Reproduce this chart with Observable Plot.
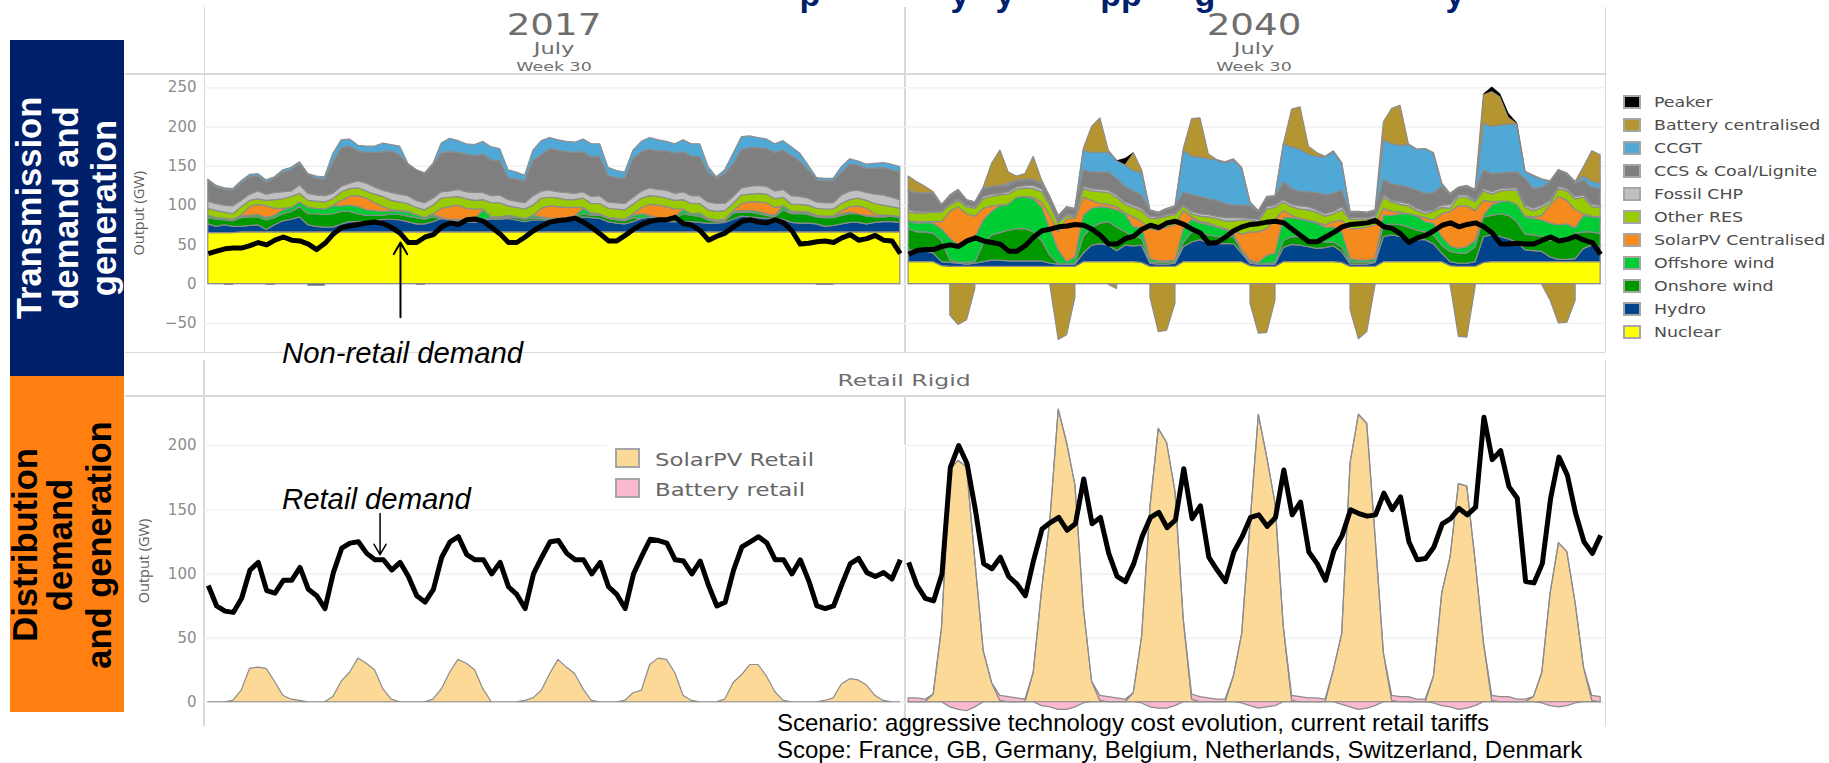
<!DOCTYPE html>
<html><head><meta charset="utf-8">
<script src="https://cdn.jsdelivr.net/npm/d3@7"></script>
<script src="https://cdn.jsdelivr.net/npm/@observablehq/plot@0.6"></script>
<style>
html,body{margin:0;padding:0;background:#fff;overflow:hidden;width:1829px;height:763px}
#page{position:relative;width:1829px;height:763px;overflow:hidden}
#page>*{position:absolute}
.plot{left:0}
.plot svg{background:transparent!important;display:block}
.rl{white-space:nowrap;transform:translate(-50%,-50%) rotate(-90deg);font:bold 34.5px "Liberation Sans";line-height:1}
.hd{white-space:nowrap;font-family:"DejaVu Sans";color:#6e6e6e;line-height:1}
.frame{background:#d9d9d9}
.leg{white-space:nowrap;font:14.5px "DejaVu Sans";color:#4d4d4d;transform-origin:left center;line-height:1}
.sw{box-sizing:border-box;width:18px;height:14px;border:2px solid #a6a6a6}
.ann{white-space:nowrap;font:italic 29.3px "Liberation Sans";color:#000;transform:translateY(-50%);line-height:1}
.note{white-space:nowrap;font:24px "Liberation Sans";color:#000;transform:translateY(-50%);line-height:1}
.ttl{white-space:nowrap;font:bold 34px "Liberation Sans";color:#00206b;line-height:1;transform:translateX(-50%)}
</style></head><body><div id="page"></div>
<script>
// Transmission 2017: top edge of each stacked layer, GW, 2-hourly (84 values, 12 per day)
const nuclear2017=[65,65,65,65,66,66,66,66,66,66,66,66,
66,66,66,66,66,66,66,66,66,66,66,66,
66,66,66,66,66,66,66,66,66,66,66,66,
66,66,66,66,66,66,66,66,66,66,66,66,
66,66,66,66,66,66,66,66,66,66,66,66,
66,66,66,66,66,66,66,66,66,66,66,66,
66,66,66,66,66,66,66,66,66,66,66,66];
const hydroTop2017=[76,73,75,73,73,74,75,69,75,80,82,85,
75,73,72,72,76,79,79,79,80,82,82,81,
79,76,76,79,83,81,80,79,78,81,82,82,
83,81,79,81,81,81,81,82,84,85,84,83,
79,77,76,79,83,85,81,79,79,79,79,78,
77,77,78,82,86,85,84,83,83,82,78,77,
77,76,73,74,76,78,78,76,78,79,79,78];
const onshoreTop2017=[84,82,81,80,84,85,85,81,84,89,92,98,
89,89,88,89,92,92,89,87,87,87,89,88,
86,84,82,85,83,81,81,80,80,82,84,83,
85,84,82,84,83,81,81,82,85,89,87,87,
83,81,80,84,83,85,82,81,83,89,87,86,
81,79,80,90,91,91,89,87,85,94,89,89,
88,85,84,84,87,89,89,86,85,85,86,84];
const offshoreTop2017=[87,84,83,82,86,87,88,84,87,94,97,104,
97,96,95,99,99,100,98,94,93,92,93,92,
91,88,84,88,84,82,82,81,82,94,85,85,
87,85,83,87,85,83,83,84,86,96,89,88,
84,82,81,87,89,87,84,83,85,94,89,89,
82,80,81,92,93,93,92,89,87,99,90,91,
90,86,86,86,89,91,89,87,86,86,87,85];
const solarTop2017=[87,84,83,82,87,98,101,99,96,96,97,104,
97,96,95,99,106,111,112,109,103,98,94,93,
92,88,84,89,96,98,100,96,95,95,85,85,
87,85,83,87,96,99,98,97,97,97,90,89,
84,83,82,89,97,101,100,98,95,95,89,90,
83,81,82,93,102,104,104,103,97,99,92,92,
91,87,86,86,93,98,99,96,89,87,87,85];
const otherTop2017=[96,93,91,89,98,106,108,106,107,108,111,115,
106,105,104,108,117,121,122,118,114,111,106,104,
102,97,94,100,109,110,111,108,106,107,103,103,
99,97,95,100,109,110,109,107,107,109,102,102,
96,95,94,101,109,112,111,109,106,107,102,102,
94,92,93,102,113,114,115,114,108,110,101,101,
100,96,95,95,102,107,109,106,102,100,98,96];
const chpTop2017=[105,102,100,99,106,114,118,114,116,117,118,126,
115,113,112,115,124,128,131,128,123,119,116,114,
112,106,103,109,117,118,120,117,116,116,112,113,
107,105,103,112,118,119,117,116,115,117,111,112,
104,103,102,110,118,122,120,119,115,117,112,112,
104,102,102,111,122,124,125,124,118,120,112,111,
109,104,103,103,113,118,119,116,114,113,110,107];
const ccsTop2017=[132,123,120,119,128,136,137,129,134,142,145,153,
139,134,133,155,173,175,169,167,167,168,169,164,
152,145,140,151,167,168,167,165,163,165,157,157,
135,133,131,157,164,172,170,168,167,168,161,162,
138,135,134,159,168,171,169,169,166,168,162,162,
142,134,140,153,171,173,173,172,167,170,163,156,
145,132,131,131,142,152,151,147,147,148,145,142];
const ccgtTop2017=[133,125,122,121,131,139,140,132,136,145,148,155,
140,137,136,166,183,184,176,175,175,179,177,175,
153,145,141,153,179,185,182,178,177,181,174,172,
145,142,138,170,182,186,183,181,180,184,178,178,
148,144,142,170,181,186,183,181,178,183,178,178,
149,136,145,166,187,188,186,184,178,182,174,166,
151,135,134,134,149,159,156,152,153,154,152,149];
const pumping2017=[null,null,-1,-1,null,null,null,-1,-1,null,null,null,
-2,-2,-2,null,null,null,null,null,null,null,null,null,
null,-1,-1,null,null,null,null,null,null,null,null,null,
null,null,null,null,null,null,null,null,null,null,null,null,
null,null,null,null,null,null,null,null,null,null,null,null,
null,null,null,null,null,null,null,null,null,null,null,null,
null,-1,-1,-1,null,null,null,null,null,null,null,null];
const demand2017=[39,42,45,46,46,49,53,50,56,60,56,55,
51,44,52,64,72,74,76,78,79,77,72,65,
53,53,60,63,73,78,76,82,83,80,72,64,
53,53,60,68,74,79,81,82,84,79,72,64,
55,55,62,70,76,80,82,82,85,77,75,68,
56,61,65,73,80,82,79,78,82,78,68,51,
52,54,55,53,59,63,56,58,62,56,55,39];

// Transmission 2040
const nuclear2040=[28,28,28,28,23,22,22,22,22,22,22,22,
22,22,22,22,22,22,22,22,22,28,28,28,
28,28,28,28,27,22,22,22,22,28,28,28,
28,28,28,28,28,23,22,22,22,28,28,28,
28,28,28,28,27,22,22,22,22,28,28,28,
28,28,28,28,28,23,22,22,22,27,28,28,
28,28,28,28,28,28,28,28,28,28,28,28];
const hydroTop2040=[43,43,42,39,28,27,26,25,26,28,30,30,
29,29,29,29,29,26,25,25,25,39,49,51,
49,42,49,48,49,26,25,25,26,47,53,56,
52,51,51,51,39,26,25,25,25,46,50,49,
47,45,46,48,41,25,25,25,27,60,62,60,
53,56,56,51,39,28,26,26,28,60,62,60,
57,53,43,42,41,34,31,31,32,45,49,47];
const onshoreTop2040=[70,66,66,64,55,30,27,27,28,51,62,65,
68,70,70,66,55,36,26,25,26,60,72,77,
79,72,66,60,58,27,27,27,27,53,66,66,
62,60,60,60,42,28,25,26,27,55,60,60,
56,55,53,53,47,28,27,27,28,75,76,75,
72,68,66,62,49,41,39,39,47,85,87,89,
87,79,63,62,60,55,58,56,64,66,66,64];
const offshoreTop2040=[80,77,78,77,70,58,49,51,59,81,92,99,
101,110,111,108,98,70,43,28,34,87,96,98,
97,94,89,72,72,32,29,29,30,70,82,77,
75,72,69,64,43,30,27,36,39,84,84,82,
80,77,72,72,66,32,30,30,32,87,87,89,
89,86,79,77,60,48,45,47,55,87,100,104,
105,101,85,83,81,77,75,76,71,87,85,84];
const solarTop2040=[80,79,79,79,79,92,98,89,86,96,99,100,
101,110,111,110,104,87,66,83,83,110,106,102,
101,98,90,85,79,70,68,72,75,93,85,79,
77,73,70,67,63,66,66,70,82,93,87,83,
81,78,75,79,81,70,70,72,75,96,92,91,
89,87,84,81,89,92,99,99,93,106,104,105,
105,101,86,85,87,100,111,106,94,89,86,85];
const otherTop2040=[91,90,90,91,91,100,106,98,96,108,111,113,
114,120,122,121,117,100,77,87,85,121,118,117,
116,110,101,97,93,83,83,86,88,99,89,86,
85,83,80,80,81,81,79,95,97,104,98,95,
94,91,86,89,94,82,82,82,84,110,104,101,
99,93,89,92,97,96,110,110,104,118,114,118,
119,119,97,93,97,103,121,118,108,110,98,97];
const chpTop2040=[94,92,92,92,92,102,108,100,98,111,114,115,
117,123,125,125,121,102,79,89,87,124,121,120,
119,113,104,100,96,86,85,88,90,101,92,89,
88,86,84,84,84,83,82,98,100,107,101,99,
98,94,89,92,98,84,84,84,87,113,106,104,
102,96,92,94,100,101,113,113,106,121,117,121,
122,122,100,96,100,106,124,121,111,113,101,100];
const ccsTop2040=[118,115,115,115,100,111,118,106,103,121,123,124,
125,131,132,132,127,109,85,96,94,145,142,142,
142,134,124,118,113,93,89,94,98,117,113,111,
108,106,102,100,100,99,92,110,111,130,121,117,
117,116,113,115,119,90,91,90,92,133,127,125,
123,119,115,116,124,113,122,123,119,145,140,141,
142,142,134,121,123,130,145,139,128,132,123,121];
const ccgtTop2040=[119,116,116,116,100,112,119,106,103,122,124,125,
128,132,133,133,128,110,86,97,95,170,167,167,
167,157,151,144,141,93,90,95,98,170,162,161,
159,157,154,157,147,103,92,110,111,178,174,171,
165,162,161,168,153,91,92,90,93,183,178,176,
177,171,172,166,127,114,122,124,119,204,200,202,
203,203,142,137,133,130,145,140,130,137,130,128];
const batteryTop2040=[137,130,124,117,101,113,120,107,104,123,153,170,
142,137,140,162,132,111,87,98,96,172,200,211,
170,157,152,167,145,94,91,96,99,172,210,211,
165,158,155,159,148,104,93,111,112,178,222,225,
175,167,162,169,154,92,92,91,94,206,223,227,
178,171,172,167,128,115,123,125,120,241,245,238,
212,204,143,138,133,131,145,141,130,149,169,164];
const peakerTop2040=[137,130,124,117,101,113,120,107,104,123,153,170,
142,137,140,162,132,111,87,98,96,172,200,211,
170,157,160,167,145,94,91,96,99,172,210,211,
165,158,155,159,148,104,93,111,112,178,222,225,
175,167,162,169,154,92,92,91,94,206,223,227,
178,171,172,167,128,115,123,125,120,242,251,242,
217,205,143,138,133,131,145,141,130,149,169,164];
const batteryNeg2040=[null,null,null,null,null,-40,-52,-46,-6,null,null,null,
null,null,null,null,null,-2,-71,-65,-17,null,null,null,
-1,-6,null,null,null,-17,-61,-59,-25,null,null,null,
null,null,null,null,null,-25,-63,-62,-21,null,null,null,
null,null,null,null,null,-33,-70,-61,-1,null,null,null,
null,null,null,null,null,-1,-67,-68,-4,null,null,null,
null,null,null,null,-1,-21,-50,-49,-21,null,null,null];
const demand2040=[38,43,44,44,48,50,48,55,59,55,53,51,
42,42,49,60,68,70,73,74,76,75,70,62,
51,51,58,61,70,75,72,78,80,76,70,65,
52,53,60,68,73,76,77,79,80,78,70,62,
54,54,60,66,73,76,77,78,81,73,71,64,
53,59,62,68,75,78,73,76,78,73,65,51,
51,52,51,51,56,60,55,57,61,56,53,38];

// Distribution
const retailDemand2017=[91,75,71,70,81,103,109,87,85,95,95,105,
88,83,73,101,120,124,125,116,111,111,103,109,
98,83,78,88,113,125,129,115,111,111,100,109,
90,84,73,100,113,125,126,116,111,111,100,109,
90,84,73,100,114,127,126,124,111,110,100,110,
91,75,78,103,121,125,129,124,111,111,100,111,
95,75,73,75,92,108,112,101,98,101,96,111];
const solarRetail2017=[0,0,0,1,9,26,27,26,16,5,2,1,
0,0,0,4,16,23,34,30,25,10,2,0,
0,0,0,2,10,23,33,30,25,10,0,0,
0,0,1,3,9,22,33,27,22,10,1,0,
0,0,1,7,9,29,34,33,23,5,1,0,
0,0,2,15,21,29,29,20,8,1,0,0,
0,0,1,3,14,18,17,13,5,1,0,0];
const retailDemand2040=[109,91,81,79,100,183,200,186,150,108,104,113,
98,92,83,111,135,140,144,134,139,174,139,144,
116,98,94,108,129,144,148,136,142,182,143,153,
113,103,94,117,129,144,146,137,144,181,146,156,
117,108,95,118,130,150,147,145,146,163,150,160,
125,111,112,121,139,143,151,146,152,222,189,196,
168,159,94,93,108,159,191,177,147,125,116,130];
const solarRetail2040=[0,0,0,6,58,181,188,183,110,40,15,1,
0,0,0,23,87,142,228,202,169,74,16,1,
0,0,0,7,51,152,213,202,164,64,2,0,
0,0,0,20,53,139,224,191,155,58,1,0,
0,0,0,25,53,186,224,217,129,38,1,0,
0,0,0,20,85,113,170,168,110,46,1,0,
0,0,0,4,23,85,124,117,77,27,1,0];
const batteryUp2040=[3,3,2,0,0,0,0,0,0,0,0,4,
4,3,2,0,0,0,0,0,0,0,0,4,
4,3,2,0,0,0,0,0,0,0,4,4,
3,2,2,0,0,0,0,0,0,0,4,4,
3,3,2,0,0,0,0,0,0,0,4,4,
4,2,2,0,0,0,0,0,0,0,4,4,
4,2,2,0,0,0,0,0,0,0,4,4];
const batteryDown2040=[0,0,0,0,0,-4,-6,-7,-4,0,0,0,
0,0,0,0,-3,-4,-6,-6,-4,-1,0,0,
0,0,0,0,-1,-4,-5,-5,-3,0,0,0,
0,0,0,0,-1,-3,-5,-4,-3,0,0,0,
0,0,0,0,-2,-4,-6,-5,-3,0,0,0,
0,0,0,-1,-3,-4,-6,-5,-3,0,0,0,
0,0,0,0,-1,-3,-4,-3,-1,0,0,0];

const transmissionTicks=[-50,0,50,100,150,200,250];
const distributionTicks=[0,50,100,150,200];
const legendTop=["Peaker","Battery centralised","CCGT","CCS & Coal/Lignite","Fossil CHP","Other RES","SolarPV Centralised","Offshore wind","Onshore wind","Hydro","Nuclear"];
const colorsTop=["#000000","#b5952f","#4fa8d5","#7f7f7f","#c0c0c0","#99cc00","#f58a1f","#00cc33","#009900","#00448c","#ffff00"];
const legendRetail=["SolarPV Retail","Battery retail"];
const colorsRetail=["#fdd998","#fbb9d0"];
const NAVY="#001f6b",ORANGE="#ff8010",EDGE="#8c8c8c",TICK="#8c8c8c",GRID="#f1f1f1";

const tOf=(year,i)=>i+(year===2040?84:0);
const band=(year,lo,hi)=>hi.map((h,i)=>({t:tOf(year,i),lo:Array.isArray(lo)?lo[i]:lo,hi:h}));
const serie=(year,v)=>v.map((y,i)=>({t:tOf(year,i),y}));
const area=(rows,fill)=>Plot.areaY(rows,{x:"t",y1:"lo",y2:"hi",fill,stroke:EDGE,strokeWidth:1.2});
const line=(rows,w)=>Plot.lineY(rows,{x:"t",y:"y",stroke:"#000",strokeWidth:w,strokeLinejoin:"round",strokeLinecap:"butt"});
const c=Object.fromEntries(legendTop.map((n,i)=>[n,colorsTop[i]]));
const xDomain=[-0.456,167.58];
const axisFont={fontFamily:"DejaVu Sans",fontSize:15,fill:TICK};
const yAxis=ticks=>Plot.axisY({ticks,tickSize:0,tickPadding:8,label:null,...axisFont});
const yLabel=off=>Plot.text(["Output (GW)"],{frameAnchor:"left",textAnchor:"middle",dx:-off,rotate:-90,fontSize:14.5,fontFamily:"Open Sans",fill:"#606060"});

const layers=(y,s)=>[
 area(band(y,0,s.nuclear),c["Nuclear"]),
 area(band(y,s.nuclear,s.hydro),c["Hydro"]),
 area(band(y,s.hydro,s.onshore),c["Onshore wind"]),
 area(band(y,s.onshore,s.offshore),c["Offshore wind"]),
 area(band(y,s.offshore,s.solar),c["SolarPV Centralised"]),
 area(band(y,s.solar,s.other),c["Other RES"]),
 area(band(y,s.other,s.chp),c["Fossil CHP"]),
 area(band(y,s.chp,s.ccs),c["CCS & Coal/Lignite"]),
 area(band(y,s.ccs,s.ccgt),c["CCGT"])
];

const topPlot=Plot.plot({
 width:1829,height:375,marginLeft:204,marginRight:224,marginTop:73.5,marginBottom:23,
 x:{domain:xDomain,axis:null},y:{domain:[-86.9,267.4]},
 marks:[
  Plot.ruleY(transmissionTicks,{stroke:GRID,strokeWidth:1.5}),
  yAxis(transmissionTicks),yLabel(65),
  area(band(2017,0,pumping2017),c["Hydro"]),
  ...layers(2017,{nuclear:nuclear2017,hydro:hydroTop2017,onshore:onshoreTop2017,offshore:offshoreTop2017,solar:solarTop2017,other:otherTop2017,chp:chpTop2017,ccs:ccsTop2017,ccgt:ccgtTop2017}),
  area(band(2040,0,batteryNeg2040),c["Battery centralised"]),
  ...layers(2040,{nuclear:nuclear2040,hydro:hydroTop2040,onshore:onshoreTop2040,offshore:offshoreTop2040,solar:solarTop2040,other:otherTop2040,chp:chpTop2040,ccs:ccsTop2040,ccgt:ccgtTop2040}),
  area(band(2040,ccgtTop2040,batteryTop2040),c["Battery centralised"]),
  Plot.areaY(band(2040,batteryTop2040,peakerTop2040),{x:"t",y1:"lo",y2:"hi",fill:c["Peaker"]}),
  line(serie(2017,demand2017),5),
  line(serie(2040,demand2040),5),
  Plot.arrow([{x:23.05,y1:-42,y2:53}],{x1:"x",x2:"x",y1:"y1",y2:"y2",stroke:"#000",strokeWidth:2,headLength:10,bend:0})
 ]
});

const bottomPlot=Plot.plot({
 width:1829,height:388,marginLeft:204,marginRight:224,marginTop:20,marginBottom:37,
 x:{domain:xDomain,axis:null},y:{domain:[-18.9,239]},
 marks:[
  Plot.ruleY(distributionTicks,{stroke:GRID,strokeWidth:1.5}),
  yAxis(distributionTicks),yLabel(60),
  area(band(2017,0,solarRetail2017),colorsRetail[0]),
  area(band(2040,0,solarRetail2040),colorsRetail[0]),
  area(band(2040,solarRetail2040,solarRetail2040.map((v,i)=>v+batteryUp2040[i])),colorsRetail[1]),
  area(band(2040,0,batteryDown2040),colorsRetail[1]),
  line(serie(2017,retailDemand2017),5),
  line(serie(2040,retailDemand2040),5),
  Plot.arrow([{x:20.6,y1:147,y2:115}],{x1:"x",x2:"x",y1:"y1",y2:"y2",stroke:"#000",strokeWidth:1.5,headLength:12,bend:0})
 ]
});

const page=document.getElementById("page");
const add=(cls,html,css)=>{const d=document.createElement("div");d.className=cls;d.innerHTML=html;d.style.cssText=css;page.appendChild(d);return d};
// panel frames
[[125,73,1480,1.5],[125,351.5,1480,1.5],[125,395,1480,1.5]].forEach(([l,t,w,h])=>add("frame","",`left:${l}px;top:${t}px;width:${w}px;height:${h}px`));
[[203.5,7,345],[904,7,345],[1604.5,7,345],[203,360,366],[904,395,331],[1604.5,360,366]].forEach(([l,t,h])=>add("frame","",`left:${l}px;top:${t}px;width:1.5px;height:${h}px`));
const p1=add("plot","",`top:0`);p1.appendChild(topPlot);
const p2=add("plot","",`top:375px`);p2.appendChild(bottomPlot);
// clipped slide title: only descenders survive at the top edge
[["p",810],["y",960],["y",1005],["pp",1121],["g",1205],["y",1455]].forEach(([s,x])=>add("ttl",s,`left:${x}px;top:-23px`));
// left blocks
add("","",`left:10px;top:40px;width:114px;height:336px;background:${NAVY}`);
add("","",`left:10px;top:376px;width:114px;height:336px;background:${ORANGE}`);
[["Transmission",29],["demand and",66],["generation",104]].forEach(([s,x])=>add("rl",s,`left:${x}px;top:208px;color:#fff`));
[["Distribution",25],["demand",60],["and generation",99]].forEach(([s,x])=>add("rl",s,`left:${x}px;top:545px;color:#000`));
// strip headers
const hdCss=(x,y,size,k)=>`left:${x}px;top:${y}px;font-size:${size}px;transform:translate(-50%,-50%) scaleX(${k})`;
[["2017",554],["2040",1254]].forEach(([s,x])=>{add("hd",s,hdCss(x,24,31,1.2));add("hd","July",hdCss(x,49,15,1.5));add("hd","Week 30",hdCss(x,66,13,1.34))});
add("hd","Retail Rigid",hdCss(904,381,16,1.47));
// legends
legendTop.forEach((n,i)=>{const y=101.7+i*23.03;add("sw","",`left:1623px;top:${y-7}px;background:${colorsTop[i]}`);add("leg",n,`left:1653.5px;top:${y}px;transform:translateY(-50%) scaleX(1.2)`)});
add("","",`left:606px;top:445px;width:299px;height:63px;background:#fff`);
legendRetail.forEach((n,i)=>{const y=458+i*30;add("sw","",`left:615px;top:${y-10}px;width:25px;height:20px;background:${colorsRetail[i]}`);add("leg",n,`left:655px;top:${y+2}px;font-size:17px;color:#666;transform:translateY(-50%) scaleX(1.34)`)});
// annotations and notes
add("ann","Non-retail demand",`left:282px;top:353px`);
add("ann","Retail demand",`left:282px;top:499px`);
add("note","Scenario: aggressive technology cost evolution, current retail tariffs",`left:777px;top:723px`);
add("note","Scope: France, GB, Germany, Belgium, Netherlands, Switzerland, Denmark",`left:777px;top:750px`);
</script></body></html>
